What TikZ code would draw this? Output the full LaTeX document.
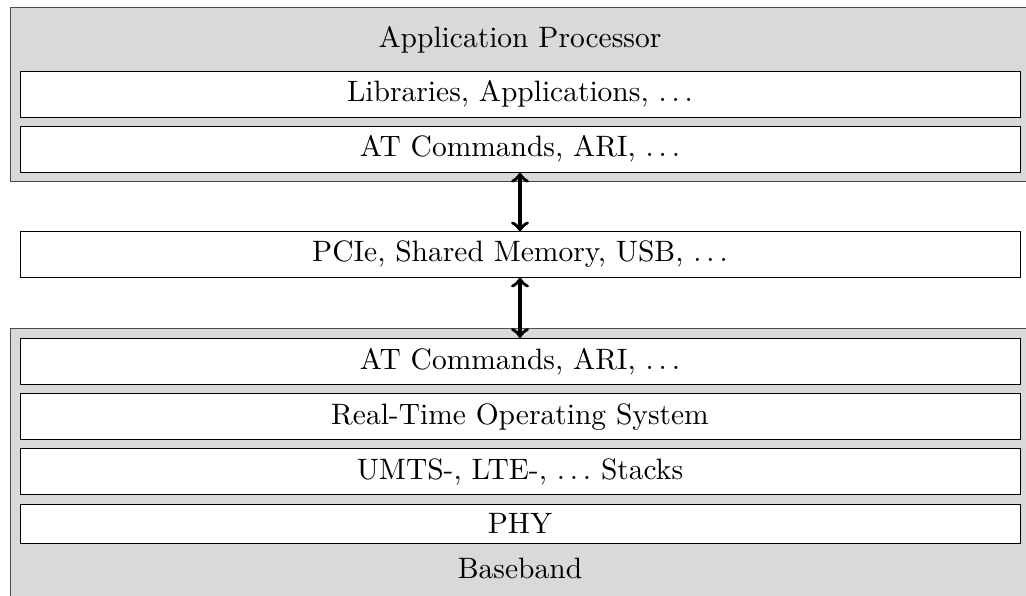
\documentclass[tikz,border=0pt]{standalone}
\usepackage{tikz}
\usetikzlibrary{positioning}
\usetikzlibrary{arrows}

\tikzset{
    layer/.style = {rectangle, draw, line width=0.3pt, fill=white, minimum width=339pt, minimum height=15.6pt, inner sep=0pt},
    chip/.style = {rectangle, draw=black!70, line width=0.3pt, fill=gray!30, inner sep=0pt}
}

\begin{document}
\begin{tikzpicture}[x=0.339pt, y=-0.339pt, node distance = 2.8pt]
        \useasboundingbox (0, 0) rectangle (1026, 596);

        % application processor
        \node (ap) [chip, anchor=north west, minimum width=345.8pt, minimum height=59pt] at (10, 7) {};
        \node (aptitle) at (520, 40) {Application Processor};
        \node (lib) [layer] at (520, 94) {Libraries, Applications, $\dots$};
        \node (atap) [layer, below = of lib] {AT Commands, ARI, $\dots$};

        % interconnect
        \node (bus) [layer, minimum height=15.3pt] at (520, 254.5) {PCIe, Shared Memory, USB, $\dots$};

        % baseband
        \node (bb) [chip, anchor=north west, minimum width=345.8pt, minimum height=95pt] at (10, 328) {};
        \node (atbb) [layer] at (520, 361.5) {AT Commands, ARI, $\dots$};
        \node (rtos) [layer, below = of atbb] {Real-Time Operating System};
        \node (stack) [layer, below = of rtos] {UMTS-, LTE-, $\dots$ Stacks};
        \node (phy) [layer, minimum height=13.3pt, below = of stack] {PHY};
        \node (bbtitle) at (520, 568) {Baseband};

        \draw[<->, very thick] (atap) -- (bus);
        \draw[<->, very thick] (bus) -- (atbb);
    \end{tikzpicture}
\end{document}
